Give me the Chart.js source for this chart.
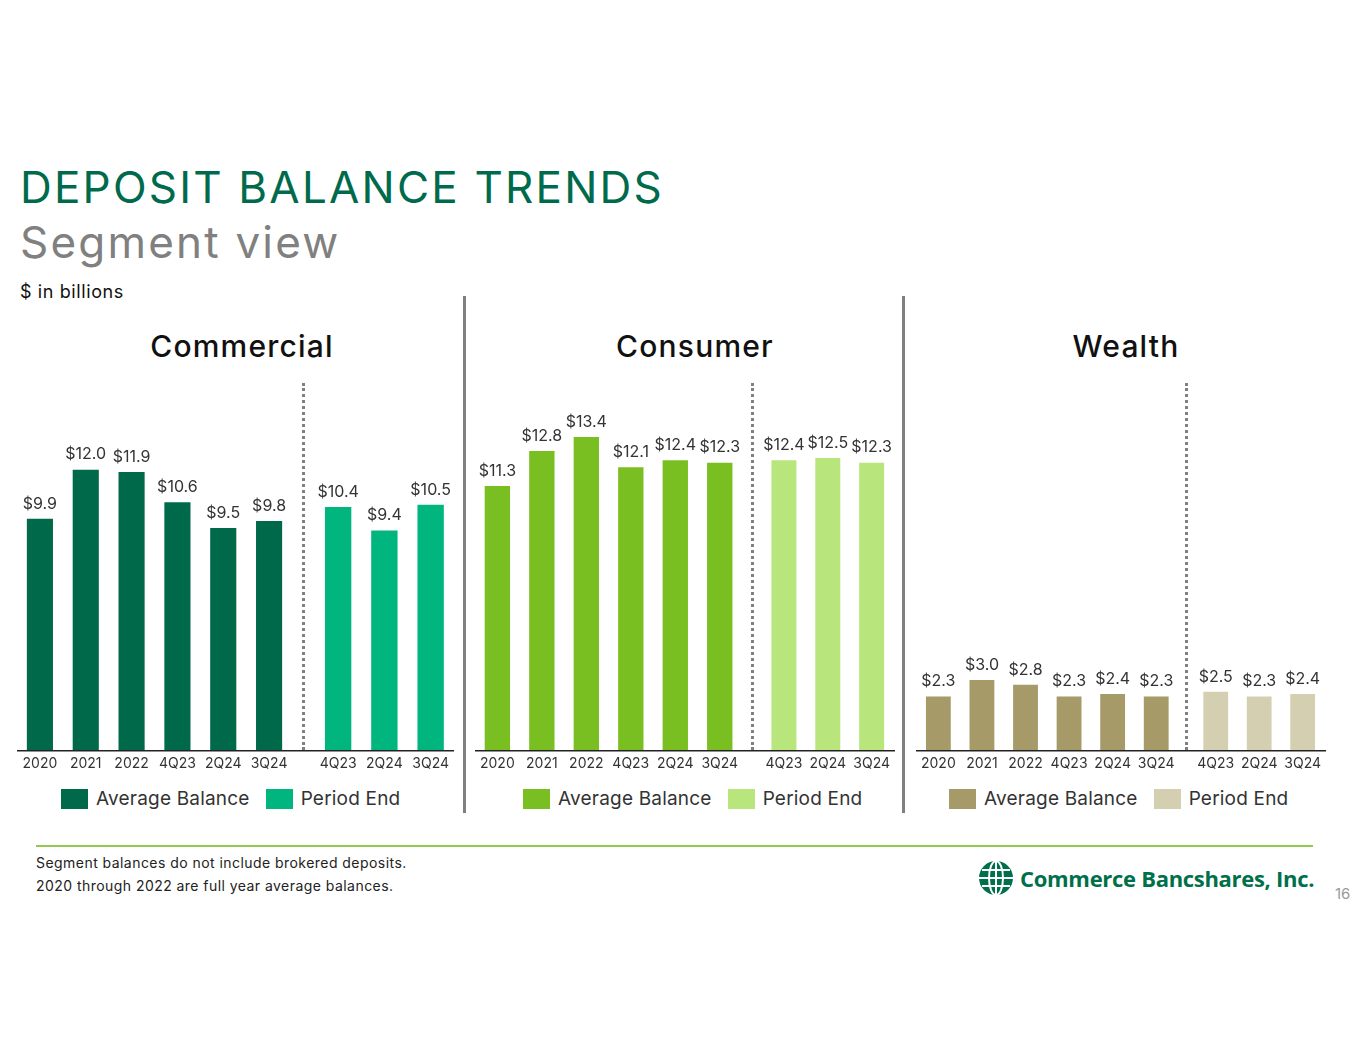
<!DOCTYPE html>
<html>
<head>
<meta charset="utf-8">
<script src="https://cdn.jsdelivr.net/npm/chart.js@4/dist/chart.umd.min.js"></script>
<style>
  body { margin: 0; background: #fff; font-family: Inter, "Open Sans", sans-serif; }
  #page { position: relative; width: 1365px; height: 1055px; overflow: hidden; background: #fff; }
  .abs { position: absolute; }
  .title { left: 20px; top: 160px; font-size: 44px; color: #006a4d; letter-spacing: 2.2px; white-space: nowrap; }
  .subtitle { left: 20px; top: 215px; font-size: 44px; color: #808080; letter-spacing: 2.2px; white-space: nowrap; }
  .units { left: 20px; top: 281px; font-size: 18px; color: #111; letter-spacing: 0.6px; }
  .panelTitle { top: 328px; font-size: 30px; font-weight: 500; color: #111; text-align: center; width: 300px; letter-spacing: 1.2px; }
  .divider { top: 296px; width: 3px; height: 517px; background: #808080; }
  .dotted { top: 383px; height: 367px; border-left: 3px dotted #808080; }
  .legend { top: 787px; display: flex; align-items: center; font-size: 19px; color: #333; white-space: nowrap; letter-spacing: 0.2px; }
  .legend span.box { display: inline-block; width: 27px; height: 20px; margin-right: 8px; }
  .legend span.item { display: inline-flex; align-items: center; margin-right: 16px; }
  .rule { left: 36px; top: 845px; width: 1277px; height: 2px; background: #92c850; }
  .note { left: 36px; font-size: 14px; color: #222; letter-spacing: 0.45px; }
  .logo { left: 978px; top: 860px; display: flex; align-items: center; }
  .logo .name { font-family: "Open Sans", sans-serif; font-weight: 700; font-size: 22px; color: #00704a; margin-left: 6px; letter-spacing: -0.3px; }
  .pageNo { left: 1335px; top: 884px; font-size: 15px; color: #9a9a9a; }
</style>
</head>
<body>
<div id="page">
  <div class="abs title">DEPOSIT BALANCE TRENDS</div>
  <div class="abs subtitle">Segment view</div>
  <div class="abs units">$ in billions</div>

  <div class="abs divider" style="left:463px"></div>
  <div class="abs divider" style="left:902px"></div>

  <div class="abs rule"></div>
  <div class="abs note" style="top:854px">Segment balances do not include brokered deposits.</div>
  <div class="abs note" style="top:877px">2020 through 2022 are full year average balances.</div>
  <div class="abs logo">
    <svg width="36" height="36" viewBox="0 0 36 36">
      <circle cx="18" cy="18" r="17" fill="#00704a"/>
      <ellipse cx="18" cy="18" rx="7" ry="17" fill="none" stroke="#fff" stroke-width="2"/>
      <line x1="18" y1="1" x2="18" y2="35" stroke="#fff" stroke-width="2"/>
      <line x1="1" y1="18" x2="35" y2="18" stroke="#fff" stroke-width="2"/>
      <line x1="4" y1="10" x2="32" y2="10" stroke="#fff" stroke-width="2"/>
      <line x1="4" y1="26" x2="32" y2="26" stroke="#fff" stroke-width="2"/>
    </svg>
    <span class="name">Commerce Bancshares, Inc.</span>
  </div>
  <div class="abs pageNo">16</div>
</div>

<script>
// $ in billions
const avgLabels = ['2020', '2021', '2022', '4Q23', '2Q24', '3Q24'];
const endLabels = ['4Q23', '2Q24', '3Q24'];

const commercialAvg = [9.9, 12.0, 11.9, 10.6, 9.5, 9.8];
const commercialEnd = [10.4, 9.4, 10.5];
const consumerAvg = [11.3, 12.8, 13.4, 12.1, 12.4, 12.3];
const consumerEnd = [12.4, 12.5, 12.3];
const wealthAvg = [2.3, 3.0, 2.8, 2.3, 2.4, 2.3];
const wealthEnd = [2.5, 2.3, 2.4];

const legendNames = ['Average Balance', 'Period End'];

// layout of the three panels (chart area edges and the dotted split)
const panels = [
  { title: 'Commercial', center: 242, avg: commercialAvg, end: commercialEnd,
    colors: ['#00694a', '#00b67e'], left: 17, split: 303, right: 454,
    avgRight: 292, endLeft: 315, legendLeft: 61 },
  { title: 'Consumer', center: 695, avg: consumerAvg, end: consumerEnd,
    colors: ['#7abf22', '#b8e67c'], left: 475, split: 752, right: 895,
    avgRight: 742, endLeft: 762, legendLeft: 523 },
  { title: 'Wealth', center: 1126, avg: wealthAvg, end: wealthEnd,
    colors: ['#a69a68', '#d5cfb2'], left: 916, split: 1186, right: 1326,
    avgRight: 1178, endLeft: 1194, legendLeft: 949 }
];

const CANVAS_TOP = 380;
const CANVAS_H = 400;

// value labels above each bar
const valueLabels = {
  id: 'valueLabels',
  afterDatasetsDraw(chart) {
    const ctx = chart.ctx;
    ctx.save();
    ctx.font = '16px Inter, sans-serif';
    ctx.fillStyle = '#333';
    ctx.textAlign = 'center';
    ctx.textBaseline = 'bottom';
    const meta = chart.getDatasetMeta(0);
    meta.data.forEach((bar, i) => {
      const v = chart.data.datasets[0].data[i];
      ctx.fillText('$' + v.toFixed(1), bar.x, bar.y - 7);
    });
    ctx.restore();
  }
};

// baseline running across the whole canvas width
const baseline = {
  id: 'baseline',
  afterDraw(chart) {
    const ctx = chart.ctx;
    const y = chart.chartArea.bottom + 0.5;
    ctx.save();
    ctx.strokeStyle = '#222';
    ctx.lineWidth = 1.5;
    ctx.beginPath();
    ctx.moveTo(0, y);
    ctx.lineTo(chart.width, y);
    ctx.stroke();
    ctx.restore();
  }
};

function makeChart(left, width, padLeft, padRight, labels, values, color) {
  const page = document.getElementById('page');
  const box = document.createElement('div');
  box.className = 'abs';
  box.style.left = left + 'px';
  box.style.top = CANVAS_TOP + 'px';
  box.style.width = width + 'px';
  box.style.height = CANVAS_H + 'px';
  const canvas = document.createElement('canvas');
  box.appendChild(canvas);
  page.appendChild(box);

  new Chart(canvas, {
    type: 'bar',
    data: {
      labels,
      datasets: [{
        data: values,
        backgroundColor: color,
        borderWidth: 0,
        barPercentage: 0.57,
        categoryPercentage: 1
      }]
    },
    options: {
      responsive: true,
      maintainAspectRatio: false,
      animation: false,
      layout: { padding: { top: 19.5, bottom: 3, left: padLeft, right: padRight } },
      plugins: { legend: { display: false }, tooltip: { enabled: false } },
      scales: {
        x: {
          grid: { display: false, drawTicks: false },
          border: { display: false },
          ticks: { color: '#333', font: { family: 'Inter, sans-serif', size: 14 }, padding: 5, maxRotation: 0, autoSkip: false }
        },
        y: { display: false, min: 0, max: 15 }
      }
    },
    plugins: [valueLabels, baseline]
  });
}

panels.forEach(p => {
  const page = document.getElementById('page');

  const t = document.createElement('div');
  t.className = 'abs panelTitle';
  t.style.left = (p.center - 150) + 'px';
  t.textContent = p.title;
  page.appendChild(t);

  const d = document.createElement('div');
  d.className = 'abs dotted';
  d.style.left = (p.split - 1) + 'px';
  page.appendChild(d);

  makeChart(p.left, p.split - p.left, 0, p.split - p.avgRight, avgLabels, p.avg, p.colors[0]);
  makeChart(p.split, p.right - p.split, p.endLeft - p.split, 0, endLabels, p.end, p.colors[1]);

  const lg = document.createElement('div');
  lg.className = 'abs legend';
  lg.style.left = p.legendLeft + 'px';
  legendNames.forEach((name, i) => {
    const item = document.createElement('span');
    item.className = 'item';
    const sw = document.createElement('span');
    sw.className = 'box';
    sw.style.background = p.colors[i];
    item.appendChild(sw);
    item.appendChild(document.createTextNode(name));
    lg.appendChild(item);
  });
  page.appendChild(lg);
});
</script>
</body>
</html>
